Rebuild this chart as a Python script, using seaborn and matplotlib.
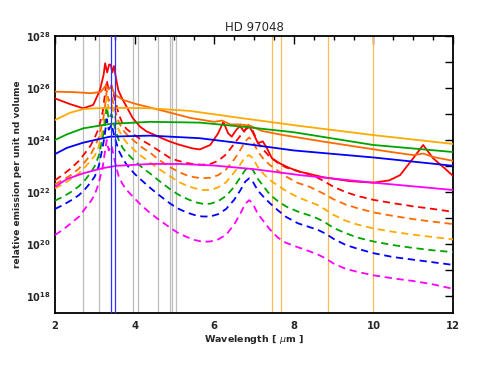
import numpy as np
import pandas as pd
import matplotlib
matplotlib.use("Agg")
import matplotlib.pyplot as plt
import seaborn as sns
from matplotlib.ticker import FixedLocator, FuncFormatter

sns.set_theme(style="white")
plt.rcParams['font.family'] = ['DejaVu Sans']
plt.rcParams['mathtext.fontset'] = 'dejavusans'

# ---------------- data (log10 of relative emission) ----------------
title = "HD 97048"
xlabel = "Wavelength [ $\\mu$m ]"
ylabel = "relative emission per unit nd volume"

# solid curves
red_x = [2.0, 2.38, 2.71, 2.96, 3.13, 3.22, 3.26, 3.31, 3.36, 3.40, 3.44, 3.48, 3.53, 3.59, 3.7, 3.8, 3.95,
         4.14, 4.3, 4.5, 4.7, 4.89, 5.1, 5.31, 5.45, 5.64, 5.9, 6.1, 6.23, 6.35, 6.44, 6.56, 6.65, 6.75,
         6.86, 6.98, 7.1, 7.22, 7.32, 7.45, 7.65, 7.9, 8.16, 8.74, 9.4, 10.0, 10.4, 10.67, 11.0, 11.25,
         11.5, 11.8, 12.0]
red_y = [25.6, 25.38, 25.22, 25.35, 25.92, 26.5, 26.95, 26.6, 26.9, 26.9, 26.6, 26.85, 26.4, 25.92, 25.55,
         25.28, 24.85, 24.51, 24.33, 24.2, 24.06, 23.94, 23.83, 23.74, 23.68, 23.64, 23.81, 24.26, 24.7,
         24.26, 24.13, 24.4, 24.54, 24.32, 24.58, 24.26, 23.88, 23.95, 23.7, 23.3, 23.1, 22.92, 22.78,
         22.57, 22.42, 22.36, 22.45, 22.65, 23.3, 23.81, 23.3, 22.9, 22.62]

orange_x = [2.0, 2.5, 2.9, 3.15, 3.28, 3.35, 3.42, 3.5, 3.7, 4.0, 4.8, 5.4, 6.0, 6.2, 6.4, 6.65, 6.9,
            7.2, 7.7, 8.7, 10.4, 11.0, 11.25, 11.5, 12.0]
orange_y = [25.86, 25.84, 25.8, 25.85, 26.1, 25.95, 26.05, 25.75, 25.55, 25.4, 25.09, 24.85, 24.7, 24.75, 24.6,
            24.6, 24.55, 24.35, 24.2, 23.95, 23.55, 23.42, 23.48, 23.35, 23.2]

gold_x = [2.0, 2.38, 2.71, 3.0, 3.55, 4.39, 5.39, 6.65, 8.16, 10.0, 12.0]
gold_y = [24.77, 25.05, 25.19, 25.22, 25.24, 25.22, 25.12, 24.85, 24.54, 24.19, 23.85]

green_x = [2.0, 2.3, 2.71, 3.38, 4.39, 5.64, 6.8, 8.0, 10.0, 12.0]
green_y = [24.0, 24.22, 24.45, 24.62, 24.7, 24.67, 24.5, 24.3, 23.81, 23.54]

blue_x = [2.0, 2.3, 2.71, 3.38, 4.39, 5.64, 6.65, 8.0, 10.0, 12.0]
blue_y = [23.46, 23.7, 23.9, 24.13, 24.17, 24.07, 23.88, 23.6, 23.33, 23.01]

magenta_x = [2.0, 2.3, 2.71, 3.2, 3.55, 4.39, 5.14, 6.0, 7.0, 8.16, 10.0, 12.0]
magenta_y = [22.2, 22.5, 22.72, 22.92, 23.01, 23.08, 23.08, 23.02, 22.88, 22.65, 22.36, 22.08]

# dashed curves (shared wavelength grid)
dash_x = [2.0, 2.2, 2.4, 2.6, 2.75, 2.9, 3.0, 3.1, 3.2, 3.25, 3.3, 3.35, 3.42, 3.5, 3.6, 3.7, 3.8,
          4.0, 4.2, 4.4, 4.6, 4.9, 5.1, 5.3, 5.5, 5.7, 5.9, 6.1, 6.3, 6.5, 6.65, 6.78, 6.88, 6.97,
          7.1, 7.25, 7.4, 7.6, 7.8, 8.1, 8.4, 8.6, 8.8, 9.0, 9.3, 9.6, 10.0, 10.5, 11.0, 11.5, 12.0]
red_dash = [22.45, 22.67, 22.91, 23.2, 23.49, 23.8, 24.1, 24.45, 25.1, 25.7, 26.3, 25.9, 26.1, 25.6, 25.0,
            24.62, 24.42, 24.19, 23.98, 23.8, 23.6, 23.3, 23.2, 23.12, 23.07, 23.05, 23.08, 23.2, 23.45,
            23.85, 24.15, 24.4, 24.5, 24.35, 23.9, 23.6, 23.35, 23.12, 22.95, 22.8, 22.68, 22.55, 22.38,
            22.2, 22.0, 21.85, 21.7, 21.57, 21.45, 21.35, 21.24]
orange_dash = [22.3, 22.47, 22.65, 22.9, 23.15, 23.45, 23.75, 24.1, 24.7, 25.2, 25.9, 25.5, 25.7, 25.2,
               24.7, 24.4, 24.22, 23.95, 23.7, 23.5, 23.25, 22.95, 22.78, 22.65, 22.57, 22.53, 22.55,
               22.65, 22.87, 23.25, 23.6, 23.95, 24.1, 23.95, 23.55, 23.25, 23.04, 22.82, 22.6, 22.35,
               22.2, 22.05, 21.9, 21.72, 21.52, 21.38, 21.22, 21.08, 20.96, 20.86, 20.77]
gold_dash = [22.14, 22.3, 22.5, 22.72, 22.95, 23.22, 23.4, 23.75, 24.4, 24.8, 25.65, 25.2, 25.4, 24.9,
             24.4, 24.1, 23.9, 23.6, 23.35, 23.12, 22.9, 22.6, 22.4, 22.25, 22.15, 22.08, 22.08, 22.18,
             22.38, 22.75, 23.05, 23.35, 23.42, 23.3, 22.95, 22.68, 22.46, 22.25, 22.05, 21.8, 21.62,
             21.5, 21.32, 21.12, 20.9, 20.75, 20.6, 20.47, 20.36, 20.27, 20.18]
green_dash = [21.67, 21.82, 22.0, 22.22, 22.45, 22.75, 23.0, 23.4, 24.1, 24.5, 25.3, 24.8, 25.0, 24.5,
              24.0, 23.7, 23.5, 23.2, 22.93, 22.7, 22.45, 22.1, 21.9, 21.75, 21.62, 21.55, 21.55, 21.65,
              21.85, 22.2, 22.55, 22.85, 22.95, 22.85, 22.5, 22.2, 21.9, 21.65, 21.45, 21.25, 21.1,
              20.98, 20.82, 20.62, 20.42, 20.25, 20.1, 19.96, 19.85, 19.76, 19.69]
blue_dash = [21.35, 21.5, 21.68, 21.88, 22.1, 22.38, 22.6, 23.0, 23.74, 24.2, 24.8, 24.4, 24.6, 24.1,
             23.6, 23.3, 23.05, 22.7, 22.42, 22.15, 21.9, 21.55, 21.36, 21.22, 21.12, 21.06, 21.06,
             21.15, 21.35, 21.7, 22.05, 22.4, 22.53, 22.4, 22.05, 21.8, 21.57, 21.3, 21.05, 20.8, 20.65,
             20.55, 20.4, 20.2, 19.97, 19.82, 19.65, 19.5, 19.4, 19.3, 19.2]
magenta_dash = [20.35, 20.55, 20.8, 21.05, 21.35, 21.65, 21.9, 22.35, 22.97, 23.5, 24.0, 23.6, 23.8, 23.2,
                22.6, 22.3, 22.08, 21.75, 21.45, 21.18, 20.95, 20.62, 20.42, 20.28, 20.16, 20.09, 20.1,
                20.18, 20.36, 20.75, 21.15, 21.55, 21.69, 21.55, 21.15, 20.86, 20.56, 20.25, 20.05,
                19.88, 19.72, 19.6, 19.45, 19.25, 19.05, 18.93, 18.8, 18.68, 18.58, 18.45, 18.28]

# vertical marker lines
gray_lines = [2.71, 3.11, 3.95, 4.08, 4.6, 4.88, 4.94, 5.05]
blue_lines = [3.41, 3.52]
orange_lines = [7.45, 7.69, 8.85, 10.0]

ytick_exps = list(range(18, 29))
xticks_major = [2, 4, 6, 8, 10, 12]

# ---------------- figure ----------------
fig = plt.figure(figsize=(4.91, 3.79), dpi=100)
ax = fig.add_axes([55 / 491, 1 - 313 / 379, (453 - 55) / 491, (313 - 36) / 379])

for v in gray_lines:
    ax.axvline(v, color="#bdbdbd", lw=0.9, zorder=1)
for v in orange_lines:
    ax.axvline(v, color="#ffbb55", lw=0.9, zorder=1)

solid = [(red_x, red_y, "#ff0000"), (orange_x, orange_y, "#ff6a00"), (gold_x, gold_y, "#ffaa00"),
         (green_x, green_y, "#00a400"), (blue_x, blue_y, "#0000ff"), (magenta_x, magenta_y, "#ff00ff")]
dashed = [(red_dash, "#ff0000"), (orange_dash, "#ff6a00"), (gold_dash, "#ffaa00"),
          (green_dash, "#00a400"), (blue_dash, "#0000ff"), (magenta_dash, "#ff00ff")]

for ys, c in dashed:
    df = pd.DataFrame({"x": dash_x, "y": np.power(10.0, ys)})
    sns.lineplot(data=df, x="x", y="y", ax=ax, color=c, lw=1.3, sort=False, estimator=None,
                 zorder=3)
    ax.lines[-1].set_dashes([4, 2.6])
for xs, ys, c in solid:
    df = pd.DataFrame({"x": xs, "y": np.power(10.0, ys)})
    sns.lineplot(data=df, x="x", y="y", ax=ax, color=c, lw=1.3, sort=False, estimator=None, zorder=4)

for v in blue_lines:
    ax.axvline(v, color="#3030ff", lw=0.9, zorder=5)

ax.set_yscale("log")
ax.set_xlim(2, 12)
ax.set_ylim(10 ** 17.35, 1e28)

ax.xaxis.set_major_locator(FixedLocator(xticks_major))
ax.xaxis.set_minor_locator(FixedLocator(np.arange(2, 12.01, 0.5)))
ax.yaxis.set_major_locator(FixedLocator([10.0 ** e for e in ytick_exps]))
ax.yaxis.set_minor_locator(FixedLocator([]))


def yfmt(v, pos):
    e = int(round(np.log10(v)))
    return r"$\mathbf{10^{%d}}$" % e if e % 2 == 0 else ""


ax.yaxis.set_major_formatter(FuncFormatter(yfmt))
ax.xaxis.set_major_formatter(FuncFormatter(lambda v, p: "%d" % v))

ax.tick_params(axis="both", which="both", direction="in", top=True, right=True, color="black", width=1.0)
ax.tick_params(axis="x", which="major", length=5.5, pad=6, labelsize=7.2)
ax.tick_params(axis="x", which="minor", length=2.8)
ax.tick_params(axis="y", which="major", length=5.5, pad=3, labelsize=7.0)
for lab in ax.get_xticklabels():
    lab.set_fontweight("bold")

for s in ax.spines.values():
    s.set_color("black")
    s.set_linewidth(1.3)
ax.grid(False)

ax.set_xlabel(xlabel, fontsize=6.8, fontweight="bold", labelpad=1)
ax.set_ylabel(ylabel, fontsize=6.5, fontweight="bold")
ax.yaxis.set_label_coords(-0.083, 0.5)
ax.set_title(title, fontsize=8.5, pad=3.5)

fig.savefig("out.png", dpi=100)
